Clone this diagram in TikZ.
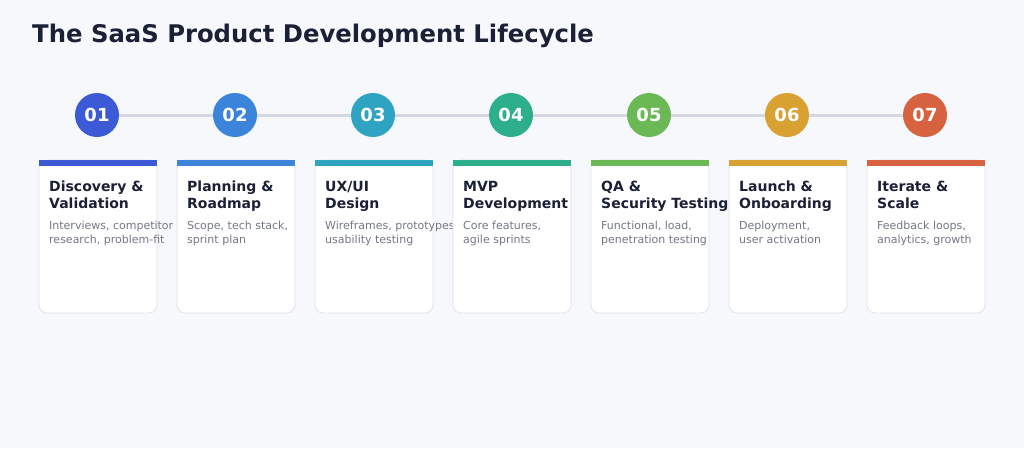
\documentclass[tikz,border=0pt]{standalone}
\usepackage{fontspec}
\setmainfont{DejaVu Sans}
\definecolor{bg}{HTML}{F6F8FC}
\definecolor{ink}{HTML}{1C2036}
\definecolor{desc}{HTML}{737885}
\definecolor{rail}{HTML}{D3D8E2}
\definecolor{cardline}{HTML}{E1E4EB}
\definecolor{cA}{HTML}{3D5AD6}
\definecolor{cB}{HTML}{3B84D9}
\definecolor{cC}{HTML}{2FA3C2}
\definecolor{cD}{HTML}{2EAF8C}
\definecolor{cE}{HTML}{6BB955}
\definecolor{cF}{HTML}{D9A032}
\definecolor{cG}{HTML}{D6623F}
\tikzset{
  dot/.style={circle,minimum size=44pt,inner sep=0pt,text=white,font=\fontsize{18}{18}\selectfont\bfseries},
  cardbox/.style={draw=cardline,fill=white,rounded corners=8pt,line width=0.8pt},
  ttl/.style={anchor=base west,inner sep=0pt,text=ink,font=\fontsize{14}{17}\selectfont\bfseries},
  dsc/.style={anchor=base west,inner sep=0pt,text=desc,font=\fontsize{11}{14}\selectfont},
}
\begin{document}
\begin{tikzpicture}[x=1pt,y=-1pt]
\fill[bg] (0,0) rectangle (1024,448);
\useasboundingbox (0,0) rectangle (1024,448);
\node[anchor=base west,inner sep=0pt,text=ink,font=\fontsize{24.3}{28}\selectfont\bfseries] (title) at (32,42) {The SaaS Product Development Lifecycle};
% rail
\coordinate (r0) at (97,115);
\coordinate (r1) at (925,115);
\draw[rail,line width=3pt] (r0) -- (r1);
% cards
\foreach \i/\c/\n/\ta/\tb/\da/\db in {
 0/cA/01/{Discovery \&}/Validation/{Interviews, competitor}/{research, problem-fit},
 1/cB/02/{Planning \&}/Roadmap/{Scope, tech stack,}/{sprint plan},
 2/cC/03/{UX/UI}/Design/{Wireframes, prototypes}/{usability testing},
 3/cD/04/MVP/Development/{Core features,}/{agile sprints},
 4/cE/05/{QA \&}/{Security Testing}/{Functional, load,}/{penetration testing},
 5/cF/06/{Launch \&}/Onboarding/{Deployment,}/{user activation},
 6/cG/07/{Iterate \&}/Scale/{Feedback loops,}/{analytics, growth}}{
  \pgfmathsetmacro{\xl}{39+138*\i}
  \pgfmathsetmacro{\xc}{97+138*\i}
  \draw[cardbox] (\xl,160) rectangle ++(118,153);
  \fill[\c] (\xl,160) rectangle ++(118,6);
  \node[dot,fill=\c] (n\n) at (\xc,115) {\n};
  \node[ttl] (ta\n) at (\xl+10,191) {\ta};
  \node[ttl] (tb\n) at (\xl+10,208) {\tb};
  \node[dsc] (da\n) at (\xl+10,229) {\da};
  \node[dsc] (db\n) at (\xl+10,243) {\db};
}
\end{tikzpicture}
\end{document}
